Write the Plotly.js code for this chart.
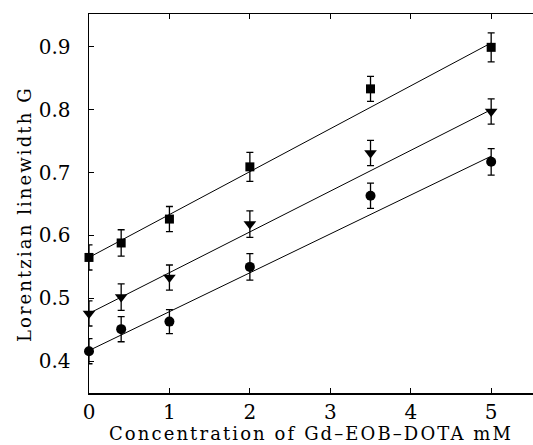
<!DOCTYPE html>
<html>
<head>
<meta charset="utf-8">
<script src="https://cdn.plot.ly/plotly-3.0.1.min.js"></script>
<style>
html,body{margin:0;padding:0;background:#fff;}
#chart{width:533px;height:445px;}
.xtitle{letter-spacing:2.1px;}
.annotation-text{letter-spacing:2.1px;}
</style>
</head>
<body>
<div id="chart"></div>
<script>
// Concentration of Gd-EOB-DOTA (mM)
const conc = [0, 0.4, 1, 2, 3.5, 5];
// Lorentzian linewidth (G) for the three series
const squareVals   = [0.565, 0.588, 0.626, 0.709, 0.833, 0.899];
const squareErr    = [0.02, 0.021, 0.02, 0.023, 0.02, 0.023];
const triangleVals = [0.476, 0.502, 0.533, 0.618, 0.731, 0.797];
const triangleErr  = [0.02, 0.021, 0.02, 0.021, 0.02, 0.02];
const circleVals   = [0.416, 0.451, 0.463, 0.550, 0.663, 0.717];
const circleErr    = [0.02, 0.02, 0.019, 0.021, 0.02, 0.021];
// Linear fit line endpoints
const fitX        = [0, 5];
const fitSquare   = [0.565, 0.906];
const fitTriangle = [0.476, 0.800];
const fitCircle   = [0.417, 0.726];
// Tick labels
const xTicks = [0, 1, 2, 3, 4, 5];
const yTicks = [0.4, 0.5, 0.6, 0.7, 0.8, 0.9];
const yTickText = ['0.4', '0.5', '0.6', '0.7', '0.8', '0.9'];
const xTitle = 'Concentration of Gd\u2013EOB\u2013DOTA mM';
const yTitle = 'Lorentzian linewidth G';

function pts(y, err, sym, size) {
  return {
    x: conc, y: y, type: 'scatter', mode: 'markers', cliponaxis: false,
    marker: {symbol: sym, size: size, color: '#000'},
    error_y: {type: 'data', array: err, visible: true, color: '#000', thickness: 1.3, width: 3.5},
    showlegend: false
  };
}
function fit(y) {
  return {x: fitX, y: y, type: 'scatter', mode: 'lines', line: {color: '#000', width: 1}, showlegend: false};
}
const data = [
  fit(fitSquare), fit(fitTriangle), fit(fitCircle),
  pts(squareVals, squareErr, 'square', 9),
  pts(triangleVals, triangleErr, 'triangle-down', 11),
  pts(circleVals, circleErr, 'circle', 10)
];
const serif = 'DejaVu Serif, Liberation Serif, serif';
const layout = {
  width: 533, height: 445,
  margin: {l: 89, r: 0, t: 14, b: 52},
  paper_bgcolor: '#fff', plot_bgcolor: '#fff',
  font: {family: serif, color: '#000'},
  xaxis: {
    range: [0, 5.52], tickvals: xTicks, ticks: 'inside', ticklen: 5, tickwidth: 1, tickcolor: '#000',
    showline: true, linecolor: '#000', linewidth: 1.5, mirror: 'ticks', showgrid: false, zeroline: false,
    tickfont: {size: 20, family: serif}, ticklabelstandoff: 0,
    title: {text: xTitle, font: {size: 18, family: serif}, standoff: 4}
  },
  yaxis: {
    range: [0.3495, 0.952], tickvals: yTicks, ticktext: yTickText, ticks: 'inside', ticklen: 5, tickwidth: 1, tickcolor: '#000',
    showline: true, linecolor: '#000', linewidth: 1.5, showgrid: false, zeroline: false,
    tickfont: {size: 20, family: serif}, ticklabelstandoff: 13
  },
  annotations: [{
    text: yTitle, textangle: -90, showarrow: false,
    xref: 'paper', yref: 'paper', x: -0.1464, y: 0.472, xanchor: 'center', yanchor: 'middle',
    font: {size: 18, family: serif, color: '#000'}
  }]
};
Plotly.newPlot('chart', data, layout, {staticPlot: true, displayModeBar: false});
</script>
</body>
</html>
